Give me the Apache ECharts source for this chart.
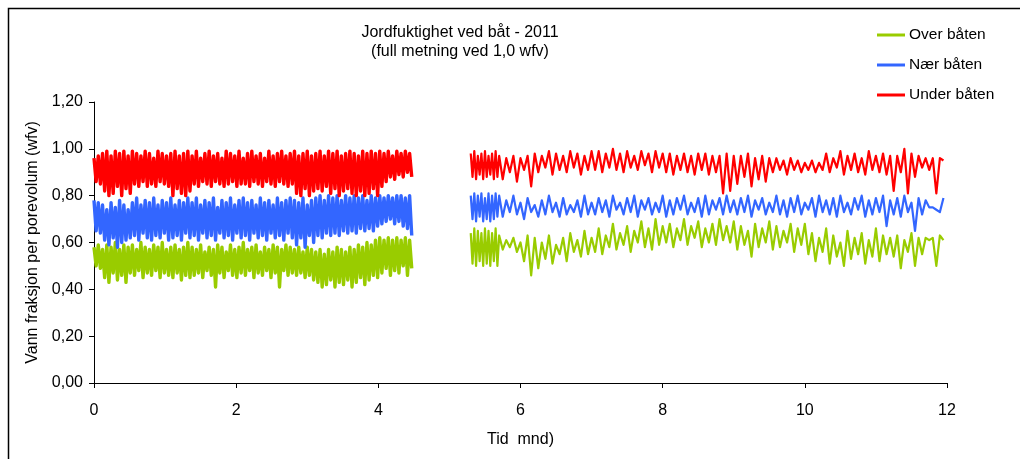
<!DOCTYPE html>
<html>
<head>
<meta charset="utf-8">
<script src="https://cdn.jsdelivr.net/npm/echarts@6/dist/echarts.min.js"></script>
<style>html,body{margin:0;padding:0;background:#fff}#c{width:1020px;height:459px}</style>
</head>
<body>
<div id="c"></div>
<script>
// ---- data ----
const titleLines = ['Jordfuktighet ved båt - 2011', '(full metning ved 1,0 wfv)'];
const seriesNames = ['Over båten', 'Nær båten', 'Under båten'];
const yTicks = [0, 0.2, 0.4, 0.6, 0.8, 1.0, 1.2];
const xTicks = [0, 2, 4, 6, 8, 10, 12];

// sampling of the logging periods (months)
const seg1Start = 0.0, seg1Step = 0.03;    // first period, dense record
const seg2aStart = 5.3, seg2aStep = 0.025; // start of second period, dense record
const seg2bStart = 5.75, seg2bStep = 0.05; // rest of second period

// Under båten (red)
const underSeg1 = [
0.96,0.86,0.97,0.85,
0.98,0.82,0.99,0.80,0.97,0.81,0.99,0.84,0.98,0.80,0.99,0.83,0.97,0.81,
0.99,0.85,0.98,0.84,0.97,0.86,0.99,0.84,0.98,0.85,0.96,0.84,0.99,0.86,0.98,0.85,0.97,0.84,
0.98,0.80,0.99,0.83,0.97,0.81,0.98,0.80,0.99,0.82,
0.97,0.85,0.99,0.84,0.96,0.86,0.98,0.85,0.99,0.84,0.97,0.86,0.98,0.85,0.96,0.84,0.99,0.85,0.98,0.86,
0.97,0.84,0.99,0.85,0.96,0.85,0.98,0.84,0.99,0.86,0.97,0.85,0.98,0.84,0.96,0.86,0.99,0.85,0.97,0.84,
0.98,0.86,0.99,0.85,0.97,0.84,0.98,0.85,
0.99,0.81,0.97,0.80,0.98,0.83,0.99,0.80,0.97,0.82,
0.98,0.83,0.99,0.82,0.97,0.84,0.99,0.81,0.98,0.83,0.99,0.80,0.97,0.82,0.98,0.83,0.99,0.81,0.98,0.80,
0.97,0.82,0.99,0.80,0.98,0.81,0.99,0.83,0.98,0.80,
0.99,0.84,0.98,0.86,0.99,0.88,0.97,0.87,0.99,0.89,0.98,0.88,0.99,0.90,0.98,0.88
];
const underSeg2a = [
0.98,0.88,0.99,0.87,0.97,0.89,0.98,0.87,0.99,0.88,0.97,0.89,0.98,0.87,0.99,0.88,0.97
];
const underSeg2b = [
0.87,0.96,0.90,0.97,0.86,0.96,0.91,0.97,
0.84,
0.98,0.90,0.97,0.92,0.99,0.89,0.98,0.91,0.97,0.90,0.99,0.92,0.98,0.89,0.97,0.91,0.99,
0.91,0.99,0.90,0.98,0.92,1.00,0.91,0.98,0.90,0.99,0.92,0.97,0.91,0.99,0.93,0.98,0.90,0.99,0.92,0.98,
0.90,0.98,0.89,0.97,0.91,0.98,0.90,0.97,0.89,0.98,
0.91,0.98,0.89,0.97,0.90,
0.97,0.81,0.98,0.82,0.97,
0.85,0.97,0.88,0.98,0.84,0.96,0.87,0.97,0.86,0.96,
0.90,0.96,0.91,0.95,0.89,0.96,0.91,0.95,0.90,0.94,0.91,0.95,0.90,0.94,
0.91,0.98,0.90,0.96,0.92,0.99,0.89,0.97,0.91,0.98,0.90,0.96,0.89,0.99,0.91,0.97,0.90,0.98,0.89,0.97,
0.82,0.97,0.90,1.00,0.81,0.98,0.88,0.97,
0.92,0.96,0.91,0.96,0.81,0.96,0.95
];

// Nær båten (blue)
const naerSeg1 = [
0.78,0.65,0.77,0.64,
0.76,0.61,0.74,0.59,0.77,0.62,0.75,0.58,0.78,0.60,0.76,0.61,0.74,0.62,
0.77,0.63,0.79,0.61,0.76,0.64,0.78,0.62,0.77,0.61,0.79,0.63,0.76,0.62,0.78,0.64,0.77,0.61,
0.79,0.62,0.76,0.63,0.78,0.61,0.77,0.64,0.79,0.62,
0.77,0.63,0.79,0.61,0.76,0.64,0.78,0.62,0.77,0.63,0.79,0.61,0.75,0.64,0.78,0.62,0.77,0.63,0.79,0.61,
0.76,0.64,0.78,0.62,0.79,0.63,0.77,0.61,0.78,0.64,0.76,0.62,0.79,0.63,0.77,0.61,0.78,0.64,0.76,0.62,
0.79,0.63,0.77,0.61,0.78,0.64,0.79,0.62,
0.78,0.59,0.77,0.62,0.79,0.58,0.76,0.63,0.78,0.60,
0.79,0.63,0.80,0.62,0.78,0.64,0.80,0.63,0.79,0.64,0.80,0.63,0.78,0.65,0.80,0.64,0.79,0.65,0.80,0.64,
0.79,0.66,0.80,0.65,0.78,0.66,0.80,0.65,0.79,0.67,
0.80,0.68,0.79,0.69,0.80,0.70,0.79,0.68,0.80,0.69,0.80,0.67,0.79,0.66,0.80,0.63
];
const naerSeg2a = [
0.80,0.70,0.81,0.69,0.80,0.71,0.81,0.69,0.79,0.70,0.81,0.69,0.80,0.70,0.81,0.71,0.80
];
const naerSeg2b = [
0.71,0.78,0.73,0.80,0.72,0.77,0.70,0.79,0.73,0.76,0.71,0.78,0.72,0.80,0.73,0.77,0.71,0.79,0.72,0.76,
0.73,0.78,0.71,0.80,0.72,0.77,
0.72,0.79,0.73,0.78,0.71,0.80,0.74,0.77,0.72,0.79,0.73,0.80,0.71,0.78,0.74,0.79,0.72,0.77,0.73,0.80,
0.71,0.78,0.72,0.79,0.74,0.80,0.72,0.77,0.73,0.79,0.71,0.80,0.72,0.78,0.74,0.79,0.72,0.80,0.73,0.78,
0.72,0.79,0.73,0.80,0.71,0.78,0.74,0.79,0.72,0.77,0.73,0.80,0.72,0.78,0.71,0.79,0.73,0.80,0.72,0.77,
0.74,0.79,0.71,0.80,0.73,0.78,0.72,0.79,0.71,0.80,0.73,0.77,0.72,0.79,0.74,0.80,0.71,0.78,0.72,0.79,
0.73,0.80,0.67,0.78,0.72,0.79,0.71,0.80,0.73,0.77,
0.65,0.79,0.72,0.78,0.75,0.75,0.74,0.73,0.79
];

// Over båten (green)
const overSeg1 = [
0.58,0.50,0.59,0.49,
0.57,0.45,0.59,0.43,0.58,0.47,0.60,0.44,0.57,0.46,0.59,0.43,0.58,0.47,
0.59,0.46,0.57,0.48,0.60,0.45,0.58,0.47,0.57,0.46,0.59,0.48,0.58,0.45,0.60,0.47,0.57,0.46,
0.58,0.45,0.59,0.47,0.57,0.44,0.58,0.46,0.60,0.45,
0.58,0.46,0.57,0.47,0.59,0.45,0.56,0.48,0.58,0.46,0.57,0.41,0.59,0.47,0.58,0.45,0.56,0.48,0.59,0.46,
0.57,0.45,0.58,0.47,0.60,0.46,0.57,0.48,0.58,0.45,0.59,0.47,0.56,0.46,0.58,0.48,0.57,0.45,0.59,0.47,
0.58,0.41,0.57,0.48,0.59,0.46,0.58,0.47,
0.57,0.46,0.58,0.47,0.56,0.45,0.58,0.46,0.57,0.44,
0.56,0.43,0.57,0.41,0.55,0.42,0.57,0.44,0.56,0.41,0.58,0.43,0.57,0.42,0.56,0.44,0.58,0.41,0.57,0.43,
0.59,0.45,0.58,0.42,0.60,0.44,0.59,0.46,0.61,0.45,
0.62,0.47,0.61,0.49,0.62,0.46,0.61,0.48,0.62,0.47,0.61,0.50,0.62,0.46,0.61,0.49
];
const overSeg2a = [
0.64,0.51,0.66,0.50,0.65,0.52,0.64,0.50,0.66,0.51,0.65,0.50,0.64,0.52,0.66,0.50,0.63
];
const overSeg2b = [
0.57,0.61,0.58,0.62,0.56,0.60,0.52,0.63,0.46,
0.62,0.49,0.60,0.53,0.63,0.51,0.59,0.55,0.62,0.52,0.64,0.56,0.61,0.54,0.65,0.55,0.62,
0.56,0.66,0.55,0.63,0.58,0.68,0.57,0.64,0.59,0.67,0.56,0.65,0.60,0.69,0.58,0.66,0.57,0.70,0.59,0.67,
0.60,0.68,0.58,0.66,0.61,0.70,0.59,0.67,0.62,0.69,0.58,0.66,0.60,0.68,0.59,0.70,0.61,0.67,0.60,0.69,
0.57,0.67,0.59,0.65,0.54,0.68,0.58,0.66,0.60,0.69,0.57,0.67,0.58,0.65,0.60,0.68,0.56,0.66,0.59,0.68,
0.55,0.64,0.52,0.62,0.56,0.66,0.51,0.63,0.54,0.60,0.50,0.65,0.53,0.62,0.55,0.64,0.51,0.61,0.54,0.66,
0.52,0.63,0.55,0.62,
0.54,0.63,0.49,0.61,0.56,0.64,0.50,0.62,0.55,0.62,0.61,0.62,0.50,0.63,0.61
];

const colors = ['#99CC00', '#3366FF', '#FF0000'];

function toPairs(pieces) {
  const out = [];
  pieces.forEach(([vals, start, step]) => {
    vals.forEach((v, i) => out.push([+(start + i * step).toFixed(4), v]));
  });
  return out;
}
const segs = [
  [overSeg1, overSeg2a, overSeg2b],
  [naerSeg1, naerSeg2a, naerSeg2b],
  [underSeg1, underSeg2a, underSeg2b]
];

const series = [];
segs.forEach((s, k) => {
  const periods = [
    { data: toPairs([[s[0], seg1Start, seg1Step]]), width: 3.4 },
    { data: toPairs([[s[1], seg2aStart, seg2aStep], [s[2], seg2bStart, seg2bStep]]), width: 2.2 }
  ];
  periods.forEach(p => {
    series.push({
      name: seriesNames[k],
      type: 'line',
      data: p.data,
      showSymbol: false,
      symbol: 'none',
      sampling: 'none',
      lineStyle: { color: colors[k], width: p.width, join: 'round' },
      itemStyle: { color: colors[k] },
      z: 2 + k
    });
  });
});

const font = 'Liberation Sans, Arial, sans-serif';
const chart = echarts.init(document.getElementById('c'), null, { renderer: 'canvas' });
chart.setOption({
  animation: false,
  backgroundColor: '#ffffff',
  title: {
    text: titleLines.join('\n'),
    left: 460,
    top: 23,
    padding: 0,
    textAlign: 'center',
    textStyle: { fontFamily: font, fontSize: 16, fontWeight: 'normal', color: '#000', lineHeight: 19 }
  },
  legend: {
    orient: 'vertical',
    left: 877,
    top: 27,
    padding: 0,
    itemWidth: 28,
    itemHeight: 3,
    itemGap: 14,
    icon: 'rect',
    data: seriesNames,
    textStyle: { fontFamily: font, fontSize: 15.5, color: '#000', lineHeight: 16, padding: [0, 0, 0, -1] }
  },
  grid: { left: 94, right: 73, top: 102, bottom: 76 },
  xAxis: {
    type: 'value',
    min: xTicks[0],
    max: xTicks[xTicks.length - 1],
    interval: 2,
    name: 'Tid  mnd)',
    nameLocation: 'middle',
    nameGap: 49,
    nameTextStyle: { fontFamily: font, fontSize: 16, color: '#000' },
    axisLine: { onZero: false, lineStyle: { color: '#000', width: 1 } },
    axisTick: { show: true, inside: false, length: 5, lineStyle: { color: '#000' } },
    axisLabel: { fontFamily: font, fontSize: 16, color: '#000', margin: 20 },
    splitLine: { show: false }
  },
  yAxis: {
    type: 'value',
    min: yTicks[0],
    max: yTicks[yTicks.length - 1],
    interval: 0.2,
    name: 'Vann fraksjon per porevolum (wfv)',
    nameLocation: 'middle',
    nameGap: 49,
    nameTextStyle: { fontFamily: font, fontSize: 16, color: '#000' },
    axisLine: { show: true, lineStyle: { color: '#000', width: 1 } },
    axisTick: { show: true, inside: false, length: 5, lineStyle: { color: '#000' } },
    axisLabel: {
      fontFamily: font, fontSize: 16, color: '#000', margin: 11,
      formatter: v => v.toFixed(2).replace('.', ',')
    },
    splitLine: { show: false }
  },
  graphic: [{
    type: 'rect',
    shape: { x: 8.5, y: 8.5, width: 1100, height: 600 },
    style: { fill: 'none', stroke: '#000', lineWidth: 1.5 },
    silent: true,
    z: 100
  }],
  series: series
});
</script>
</body>
</html>
